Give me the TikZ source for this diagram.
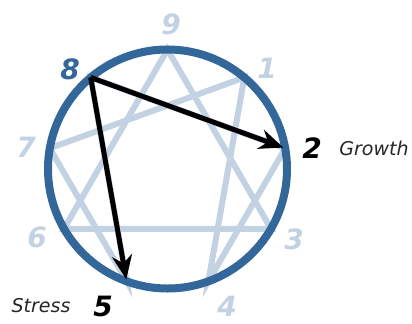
\documentclass[tikz,border=0pt]{standalone}
\usepackage{fontspec}
\setmainfont{DejaVu Sans}
\usetikzlibrary{arrows.meta}
\definecolor{ringblue}{HTML}{336699}
\definecolor{lineblue}{HTML}{C3D2E3}
\tikzstyle{arrow} = [-{Stealth[length=12pt,width=10pt]}, line width=2.5pt, black]
\tikzstyle{star} = [line width=3pt, lineblue]
\tikzstyle{point} = [font=\fontsize{14}{14}\selectfont\bfseries\itshape, lineblue]
\tikzstyle{word} = [font=\fontsize{9.5}{10}\selectfont\itshape, black!85]

\begin{document}
\begin{tikzpicture}[x=0.5pt, y=0.5pt]
\useasboundingbox (0,0) rectangle (412,323);

% Points on the circle
\coordinate (c) at (167.5,154);
\coordinate (p9) at ([shift={(c)}]90:119.5);
\coordinate (p1) at ([shift={(c)}]50:119.5);
\coordinate (p2) at ([shift={(c)}]10:119.5);
\coordinate (p3) at ([shift={(c)}]-30:119.5);
\coordinate (p4) at ([shift={(c)}]-70:119.5);
\coordinate (p5) at ([shift={(c)}]-110:119.5);
\coordinate (p6) at ([shift={(c)}]-150:119.5);
\coordinate (p7) at ([shift={(c)}]170:119.5);
\coordinate (p8) at ([shift={(c)}]130:119.5);

% Lines
\draw [star] (p9) -- (p3) -- (p6) -- cycle;
\draw [star] (p1) -- (p4) -- (p2) -- (p8) -- (p5) -- (p7) -- cycle;
\draw [ringblue, line width=4pt] (c) circle (119.5);

% Nodes
\node (n9) [point] at (171,299) {9};
\node (n1) [point] at (267,255) {1};
\node (n2) [point, black] at (312,175) {2};
\node (growth) [word] at (374,175) {Growth};
\node (n3) [point] at (294,84) {3};
\node (n4) [point] at (227,17) {4};
\node (n5) [point, black] at (103,17) {5};
\node (stress) [word] at (41,17) {Stress};
\node (n6) [point] at (37,86) {6};
\node (n7) [point] at (26,176) {7};
\node (n8) [point, ringblue] at (70,254) {8};

% Arrows
\draw [arrow, shorten >=1pt] (p8) -- (p2);
\draw [arrow, shorten >=1pt] (p8) -- (p5);

\end{tikzpicture}
\end{document}
